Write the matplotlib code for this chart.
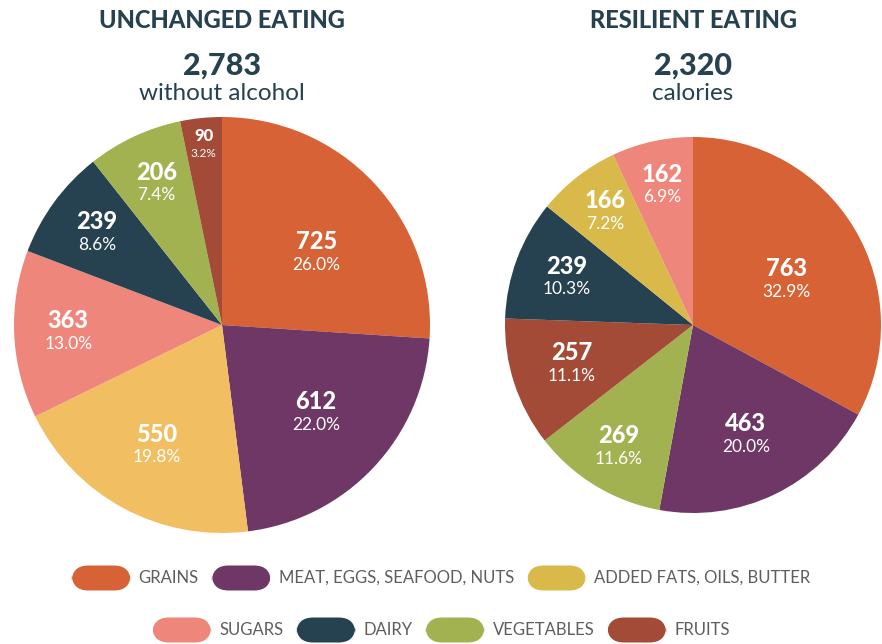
import numpy as np
import matplotlib.pyplot as plt
from matplotlib.patches import FancyBboxPatch

# ---------------------- DATA ----------------------------
categories = ["GRAINS", "MEAT, EGGS, SEAFOOD, NUTS", "ADDED FATS, OILS, BUTTER",
              "SUGARS", "DAIRY", "VEGETABLES", "FRUITS"]

# unchanged eating (clockwise from top)
left_cats = ["GRAINS", "MEAT, EGGS, SEAFOOD, NUTS", "ADDED FATS, OILS, BUTTER",
             "SUGARS", "DAIRY", "VEGETABLES", "FRUITS"]
left_vals = [725, 612, 550, 363, 239, 206, 90]
left_pcts = ["26.0%", "22.0%", "19.8%", "13.0%", "8.6%", "7.4%", "3.2%"]

# resilient eating (clockwise from top)
right_cats = ["GRAINS", "MEAT, EGGS, SEAFOOD, NUTS", "VEGETABLES", "FRUITS",
              "DAIRY", "ADDED FATS, OILS, BUTTER", "SUGARS"]
right_vals = [763, 463, 269, 257, 239, 166, 162]
right_pcts = ["32.9%", "20.0%", "11.6%", "11.1%", "10.3%", "7.2%", "6.9%"]

titles = ["UNCHANGED EATING", "RESILIENT EATING"]
totals = ["2,783", "2,320"]
subtitles = ["without alcohol", "calories"]

# ---------------------- STYLE ---------------------------
colors = {
    "GRAINS": "#D66236",
    "MEAT, EGGS, SEAFOOD, NUTS": "#6F3766",
    "ADDED FATS, OILS, BUTTER": "#D9B94A",
    "SUGARS": "#EE867B",
    "DAIRY": "#26414F",
    "VEGETABLES": "#A2B250",
    "FRUITS": "#A34B37",
}
left_colors = [colors[c] for c in left_cats]
left_colors[2] = "#F1BF62"   # lighter yellow in the left pie
right_colors = [colors[c] for c in right_cats]

# label distance from centre (fraction of radius) and angle nudge (deg)
left_lab_r = [0.57, 0.62, 0.66, 0.74, 0.745, 0.75, 0.87]
left_lab_da = [-6, 0, 0, 0, 0, 0, 0]
right_lab_r = [0.55, 0.65, 0.76, 0.68, 0.715, 0.76, 0.76]
right_lab_da = [-5, 0, 0, 0, 0, 0, 0]

DARK = "#26414F"
FONT = "Lato"
W, H = 882, 644

fig = plt.figure(figsize=(W / 100, H / 100), dpi=100)


def draw_pie(cx, cy, r, vals, pcts, cols, lab_r, lab_da, small_last=False):
    ax = fig.add_axes([(cx - r) / W, (H - cy - r) / H, 2 * r / W, 2 * r / H])
    wedges, _ = ax.pie(vals, colors=cols, startangle=90, counterclock=False,
                       wedgeprops=dict(linewidth=0))
    ax.set_xlim(-1, 1)
    ax.set_ylim(-1, 1)
    ax.set_aspect("equal")
    ax.axis("off")
    for i, (w, v, p) in enumerate(zip(wedges, vals, pcts)):
        mid = np.deg2rad((w.theta1 + w.theta2) / 2 + lab_da[i])
        x, y = lab_r[i] * np.cos(mid), lab_r[i] * np.sin(mid)
        small = small_last and i == len(vals) - 1
        fs1, fs2 = (12, 8.5) if small else (17, 12.5)
        off = 8.5 / r if small else 11.5 / r
        ax.text(x, y + off, str(v), ha="center", va="center", color="white",
                fontsize=fs1, fontweight="black", family=FONT)
        ax.text(x, y - off, p, ha="center", va="center", color="white",
                fontsize=fs2, family=FONT)


draw_pie(222, 325, 208, left_vals, left_pcts, left_colors, left_lab_r, left_lab_da,
         small_last=True)
draw_pie(693, 325, 188, right_vals, right_pcts, right_colors, right_lab_r, right_lab_da)

# ---------------------- HEADERS -------------------------
for cx, t, tot, sub in zip([222, 693], titles, totals, subtitles):
    fig.text(cx / W, 1 - 20 / H, t, ha="center", va="center", color=DARK,
             fontsize=17, fontweight="black", family=FONT)
    fig.text(cx / W, 1 - 66 / H, tot, ha="center", va="center", color=DARK,
             fontsize=22, fontweight="black", family=FONT)
    fig.text(cx / W, 1 - 94 / H, sub, ha="center", va="center", color=DARK,
             fontsize=17.5, family=FONT)

# ---------------------- LEGEND --------------------------
rows = [categories[:3], categories[3:]]
row_y = [578, 630]
pill_w, pill_h, pad, gap = 59, 25, 8, 13
fig.canvas.draw()
renderer = fig.canvas.get_renderer()
for row, ry in zip(rows, row_y):
    texts, widths = [], []
    for c in row:
        t = fig.text(0, 1 - ry / H, c, ha="left", va="center", color="#5E5E5E",
                     fontsize=12, family=FONT)
        widths.append(t.get_window_extent(renderer).width)
        texts.append(t)
    total = sum(pill_w + pad + tw for tw in widths) + gap * (len(row) - 1)
    x = W / 2 - total / 2
    for c, t, tw in zip(row, texts, widths):
        pill = FancyBboxPatch((x / W, (H - ry - pill_h / 2) / H), pill_w / W, pill_h / H,
                              boxstyle="round,pad=0,rounding_size=0.019",
                              transform=fig.transFigure, facecolor=colors[c],
                              edgecolor="none", mutation_aspect=W / H)
        fig.patches.append(pill)
        t.set_x((x + pill_w + pad) / W)
        x += pill_w + pad + tw + gap

fig.savefig("out.png", dpi=100)
